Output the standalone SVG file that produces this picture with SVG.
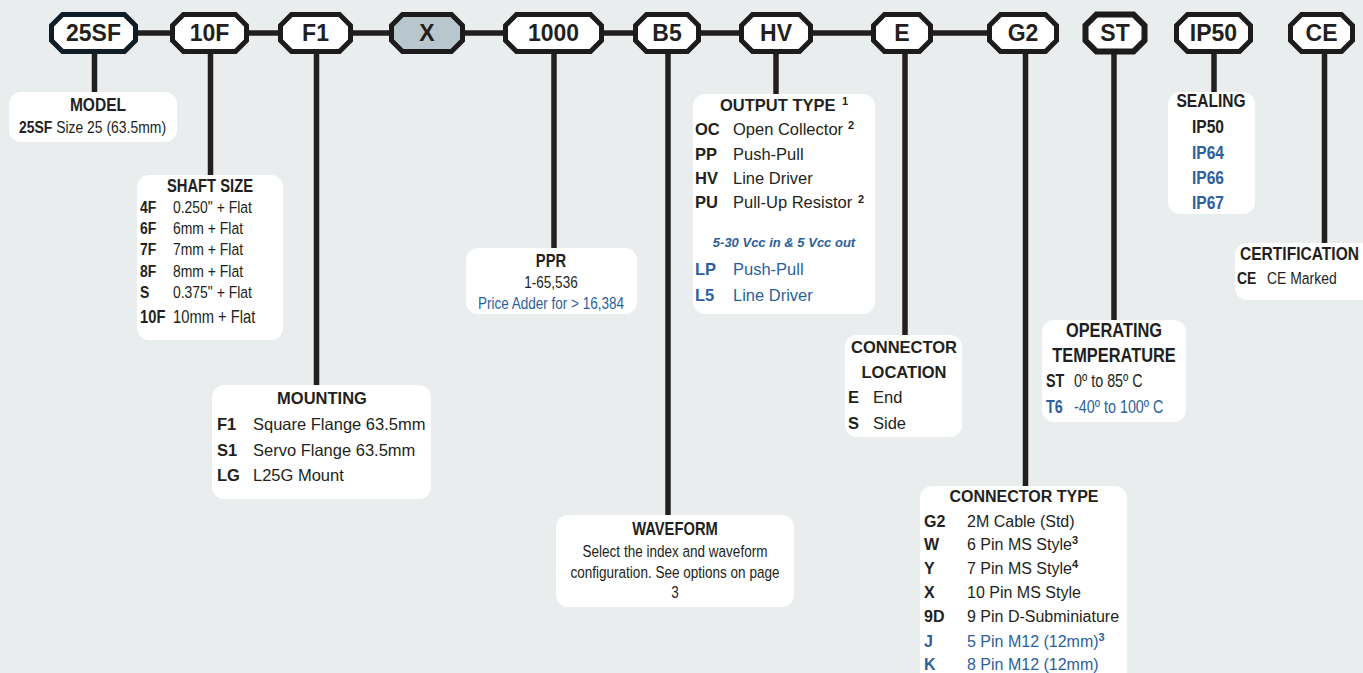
<svg xmlns="http://www.w3.org/2000/svg" width="1363" height="673" viewBox="0 0 1363 673">
<style>
.bg{fill:#e9edee}
.box{fill:#fff}
.oct{fill:#fff;stroke:#1d1b1c;stroke-width:5;stroke-linejoin:miter}
.conn{stroke:#231f20;stroke-width:5.5;fill:none}
text{font-family:"Liberation Sans",Arial,sans-serif;fill:#231f20}
.b{font-weight:bold}
.c{text-anchor:middle}
.blue{fill:#2b5f9e}
.lbl{font-size:23px;font-weight:bold;text-anchor:middle}
.sup{font-size:11px;font-weight:bold}
</style>
<rect class="bg" x="0" y="0" width="1363" height="673"/>
<g id="connectors">
<path class="conn" d="M135 33H173M246 33H281M350 33H392M462 33H506M601 33H636M698 33H742M810 33H874M930 33H990"/>
<path class="conn" d="M94.5 52V93M210.5 52V176M316.5 52V386M554 52V249M668 52V516M776 52V95M905 52V336M1025.5 52V487M1114 52V321M1214 52V93M1324.5 52V244"/>
</g>
<g id="n25SF"><path class="oct" style="stroke:#0f1d28" d="M62.5 14.5H124.5L135.5 25.5V40.5L124.5 51.5H62.5L51.5 40.5V25.5Z"/><text class="lbl" x="93.5" y="41">25SF</text></g>
<g id="n10F"><path class="oct" d="M183.5 14.5H235.5L246.5 25.5V40.5L235.5 51.5H183.5L172.5 40.5V25.5Z"/><text class="lbl" x="209.5" y="41">10F</text></g>
<g id="nF1"><path class="oct" d="M291.5 14.5H339.5L350.5 25.5V40.5L339.5 51.5H291.5L280.5 40.5V25.5Z"/><text class="lbl" x="315.5" y="41">F1</text></g>
<g id="nX"><path class="oct" style="fill:#b8c7cd" d="M402.5 14.5H451.5L462.5 25.5V40.5L451.5 51.5H402.5L391.5 40.5V25.5Z"/><text class="lbl" x="427" y="41">X</text></g>
<g id="n1000"><path class="oct" d="M516.5 14.5H590.5L601.5 25.5V40.5L590.5 51.5H516.5L505.5 40.5V25.5Z"/><text class="lbl" x="553.5" y="41">1000</text></g>
<g id="nB5"><path class="oct" d="M646.5 14.5H687.5L698.5 25.5V40.5L687.5 51.5H646.5L635.5 40.5V25.5Z"/><text class="lbl" x="667" y="41">B5</text></g>
<g id="nHV"><path class="oct" d="M752.5 14.5H799.5L810.5 25.5V40.5L799.5 51.5H752.5L741.5 40.5V25.5Z"/><text class="lbl" x="776" y="41">HV</text></g>
<g id="nE"><path class="oct" d="M884.5 14.5H919.5L930.5 25.5V40.5L919.5 51.5H884.5L873.5 40.5V25.5Z"/><text class="lbl" x="902" y="41">E</text></g>
<g id="nG2"><path class="oct" d="M1000.5 14.5H1045.5L1056.5 25.5V40.5L1045.5 51.5H1000.5L989.5 40.5V25.5Z"/><text class="lbl" x="1023" y="41">G2</text></g>
<g id="nST"><path class="oct" style="stroke-width:6" d="M1096.5 14.5H1133.5L1144.5 25.5V40.5L1133.5 51.5H1096.5L1085.5 40.5V25.5Z"/><text class="lbl" x="1115" y="41">ST</text></g>
<g id="nIP50"><path class="oct" d="M1187.5 14.5H1239.5L1250.5 25.5V40.5L1239.5 51.5H1187.5L1176.5 40.5V25.5Z"/><text class="lbl" x="1213.5" y="41">IP50</text></g>
<g id="nCE"><path class="oct" d="M1301.5 14.5H1341.5L1352.5 25.5V40.5L1341.5 51.5H1301.5L1290.5 40.5V25.5Z"/><text class="lbl" x="1321.5" y="41">CE</text></g>

<g id="model">
<rect class="box" x="9" y="92" width="168" height="50" rx="12"/>
<text class="b c" x="98" y="111" font-size="19" transform="matrix(0.82 0 0 1 17.64 0)">MODEL</text>
<text x="19" y="133" font-size="17" transform="matrix(0.82 0 0 1 3.42 0)"><tspan class="b">25SF</tspan> Size 25 (63.5mm)</text>
</g>
<g id="shaft">
<rect class="box" x="137" y="175" width="146" height="165" rx="12"/>
<text class="b c" x="210" y="192" font-size="18" transform="matrix(0.82 0 0 1 37.8 0)">SHAFT SIZE</text>
<g font-size="17">
<g class="b" transform="matrix(0.82 0 0 1 25.2 0)">
<text x="140" y="213">4F</text><text x="140" y="234">6F</text><text x="140" y="255">7F</text><text x="140" y="277">8F</text><text x="140" y="298">S</text><text x="140" y="323" font-size="18">10F</text>
</g>
<g transform="matrix(0.82 0 0 1 31.14 0)">
<text x="173" y="213">0.250" + Flat</text><text x="173" y="234">6mm + Flat</text><text x="173" y="255">7mm + Flat</text><text x="173" y="277">8mm + Flat</text><text x="173" y="298">0.375" + Flat</text><text x="173" y="323" font-size="18">10mm + Flat</text>
</g>
</g>
</g>
<g id="mounting" font-size="16.5">
<rect class="box" x="212" y="385" width="219" height="114" rx="12"/>
<text class="b c" x="322" y="404">MOUNTING</text>
<text class="b" x="217" y="430">F1</text><text x="253" y="430">Square Flange 63.5mm</text>
<text class="b" x="217" y="456">S1</text><text x="253" y="456">Servo Flange 63.5mm</text>
<text class="b" x="217" y="481">LG</text><text x="253" y="481">L25G Mount</text>
</g>
<g id="ppr">
<rect class="box" x="466" y="248" width="171" height="66" rx="12"/>
<g transform="matrix(0.82 0 0 1 99.18 0)">
<text class="b c" x="551" y="267" font-size="18">PPR</text>
<text class="c" x="551" y="288" font-size="16.5">1-65,536</text>
<text class="c blue" x="551" y="309" font-size="16.5">Price Adder for &gt; 16,384</text>
</g>
</g>
<g id="waveform">
<rect class="box" x="556" y="515" width="238" height="92" rx="12"/>
<g transform="matrix(0.82 0 0 1 121.5 0)">
<text class="b c" x="675" y="535" font-size="18">WAVEFORM</text>
<text class="c" x="675" y="557" font-size="16.5">Select the index and waveform</text>
<text class="c" x="675" y="578" font-size="16.5">configuration. See options on page</text>
<text class="c" x="675" y="598" font-size="16.5">3</text>
</g>
</g>
<g id="output" font-size="16.5">
<rect class="box" x="693" y="94" width="182" height="220" rx="12"/>
<text class="b" x="720" y="111">OUTPUT TYPE</text><text class="sup" x="842" y="105">1</text>
<text class="b" x="695" y="135">OC</text><text x="733" y="135">Open Collector</text><text class="sup" x="848" y="129">2</text>
<text class="b" x="695" y="160">PP</text><text x="733" y="160">Push-Pull</text>
<text class="b" x="695" y="184">HV</text><text x="733" y="184">Line Driver</text>
<text class="b" x="695" y="208">PU</text><text x="733" y="208">Pull-Up Resistor</text><text class="sup" x="858" y="203">2</text>
<text class="b c blue" x="784" y="247" font-size="13" font-style="italic">5-30 Vcc in &amp; 5 Vcc out</text>
<text class="b blue" x="695" y="275">LP</text><text class="blue" x="733" y="275">Push-Pull</text>
<text class="b blue" x="695" y="301">L5</text><text class="blue" x="733" y="301">Line Driver</text>
</g>
<g id="location" font-size="16.5">
<rect class="box" x="845" y="335" width="117" height="102" rx="12"/>
<text class="b c" x="904" y="353">CONNECTOR</text>
<text class="b c" x="904" y="378">LOCATION</text>
<text class="b" x="848" y="403">E</text><text x="873" y="403">End</text>
<text class="b" x="848" y="429">S</text><text x="873" y="429">Side</text>
</g>
<g id="temperature">
<rect class="box" x="1042" y="320" width="144" height="102" rx="12"/>
<g transform="matrix(0.82 0 0 1 200.52 0)">
<text class="b c" x="1114" y="337" font-size="20">OPERATING</text>
<text class="b c" x="1114" y="362" font-size="20">TEMPERATURE</text>
</g>
<g class="b" font-size="17.5" transform="matrix(0.82 0 0 1 188.28 0)">
<text x="1046" y="387">ST</text><text class="blue" x="1046" y="413">T6</text>
</g>
<g font-size="17.5" transform="matrix(0.82 0 0 1 193.32 0)">
<text x="1074" y="387">0º to 85º C</text><text class="blue" x="1074" y="413">-40º to 100º C</text>
</g>
</g>
<g id="conntype" font-size="16">
<rect class="box" x="920" y="486" width="207" height="200" rx="12"/>
<text class="b c" x="1024" y="502">CONNECTOR TYPE</text>
<text class="b" x="924" y="527">G2</text><text x="967" y="527">2M Cable (Std)</text>
<text class="b" x="924" y="550">W</text><text x="967" y="550">6 Pin MS Style<tspan class="sup" dy="-6">3</tspan></text>
<text class="b" x="924" y="574">Y</text><text x="967" y="574">7 Pin MS Style<tspan class="sup" dy="-6">4</tspan></text>
<text class="b" x="924" y="598">X</text><text x="967" y="598">10 Pin MS Style</text>
<text class="b" x="924" y="622">9D</text><text x="967" y="622">9 Pin D-Subminiature</text>
<text class="b blue" x="924" y="647">J</text><text class="blue" x="967" y="647">5 Pin M12 (12mm)<tspan class="sup blue" dy="-6">3</tspan></text>
<text class="b blue" x="924" y="670">K</text><text class="blue" x="967" y="670">8 Pin M12 (12mm)</text>
</g>
<g id="sealing">
<rect class="box" x="1168" y="92" width="87" height="122" rx="12"/>
<text class="b c" x="1211" y="107" font-size="19" transform="matrix(0.82 0 0 1 217.98 0)">SEALING</text>
<g class="b" font-size="19" transform="matrix(0.82 0 0 1 214.56 0)">
<text x="1192" y="133">IP50</text>
<text class="blue" x="1192" y="159">IP64</text>
<text class="blue" x="1192" y="184">IP66</text>
<text class="blue" x="1192" y="209">IP67</text>
</g>
</g>
<g id="certification">
<rect class="box" x="1235" y="243" width="140" height="57" rx="12"/>
<text class="b" x="1240" y="260" font-size="19" transform="matrix(0.82 0 0 1 223.2 0)">CERTIFICATION</text>
<text class="b" x="1237" y="284" font-size="17" transform="matrix(0.82 0 0 1 222.66 0)">CE</text>
<text x="1267" y="284" font-size="17" transform="matrix(0.82 0 0 1 228.06 0)">CE Marked</text>
</g>
</svg>
